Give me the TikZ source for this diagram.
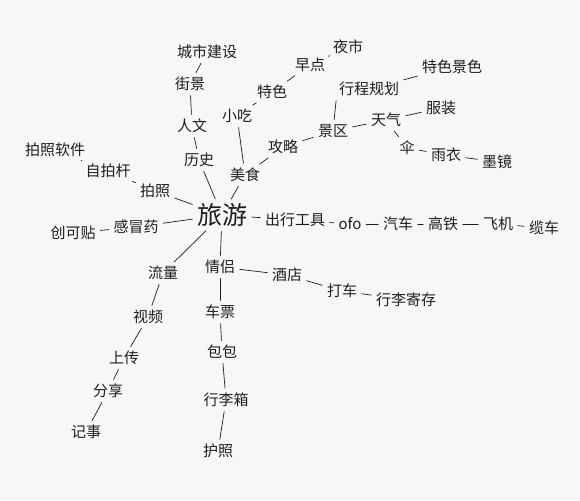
\documentclass[tikz,border=0pt]{standalone}
\usepackage{fontspec}
\setmainfont{Noto Sans CJK SC}
\usepackage{tikz}
\usetikzlibrary{positioning}

\definecolor{ink}{RGB}{30,30,30}
\definecolor{paper}{RGB}{247,247,247}

\begin{document}
\begin{tikzpicture}[x=1pt, y=-1pt,
    every node/.style={font=\fontsize{15}{17}\selectfont, text=ink, inner sep=2.5pt},
    hub/.style={font=\fontsize{25}{28}\selectfont},
    link/.style={draw=ink, line width=0.7pt, line cap=round, shorten <=2pt, shorten >=2pt}]
    \fill[paper] (0,0) rectangle (580,500);
    \useasboundingbox (0,0) rectangle (580,500);

    % Centre
    \node[hub] (travel) at (222,215) {旅游};

    % Transport chain
    \foreach \n/\x/\y/\t in {tools/295/220/出行工具, ofo/350/224/ofo, car/398/224/汽车,
        rail/443/224/高铁, plane/498/224/飞机, cable/544/228/缆车} {
        \node (\n) at (\x,\y) {\t};
    }

    % Food and sights
    \foreach \n/\x/\y/\t in {food/245/175/美食, guide/283/147/攻略, scenic/333/131/景区,
        plan/369/89/行程规划, sights/452/67/特色景色, weather/386/120/天气,
        clothes/441/108/服装, umbrella/407/148/伞, raincoat/446/155/雨衣,
        shades/497/162/墨镜, special/272/92/特色, breakfast/310/65/早点,
        nightmkt/348/47/夜市, snack/237/116/小吃} {
        \node (\n) at (\x,\y) {\t};
    }

    % History side
    \foreach \n/\x/\y/\t in {history/199/160/历史, culture/192/126/人文,
        street/190/84/街景, city/207/52/城市建设} {
        \node (\n) at (\x,\y) {\t};
    }

    % Photos and first aid
    \foreach \n/\x/\y/\t in {photo/155/191/拍照, stick/108/171/自拍杆, app/55/150/拍照软件,
        cold/136/227/感冒药, plaster/73/233/创可贴} {
        \node (\n) at (\x,\y) {\t};
    }

    % Data branch
    \foreach \n/\x/\y/\t in {data/163/273/流量, video/148/317/视频, upload/124/358/上传,
        share/108/391/分享, notes/86/432/记事} {
        \node (\n) at (\x,\y) {\t};
    }

    % Couple branch
    \foreach \n/\x/\y/\t in {couple/220/267/情侣, hotel/287/275/酒店, taxi/342/291/打车,
        luggage/406/300/行李寄存, ticket/220/312/车票, bag/222/352/包包,
        suitcase/226/400/行李箱, passport/218/451/护照} {
        \node (\n) at (\x,\y) {\t};
    }

    % Connectors
    \foreach \a/\b in {travel/tools, tools/ofo, ofo/car, car/rail, rail/plane, plane/cable,
        travel/food, food/snack, snack/special, special/breakfast, breakfast/nightmkt,
        food/guide, guide/scenic, plan/sights, scenic/weather,
        weather/clothes, weather/umbrella, umbrella/raincoat, raincoat/shades,
        travel/history, history/culture, culture/street, street/city,
        travel/photo, photo/stick, stick/app, travel/cold, cold/plaster,
        travel/data, data/video, video/upload, upload/share, share/notes,
        travel/couple, couple/hotel, hotel/taxi, taxi/luggage,
        couple/ticket, ticket/bag, bag/suitcase, suitcase/passport} {
        \draw[link] (\a) -- (\b);
    }
    \draw[link] (scenic) -- (plan.south west);
\end{tikzpicture}
\end{document}
